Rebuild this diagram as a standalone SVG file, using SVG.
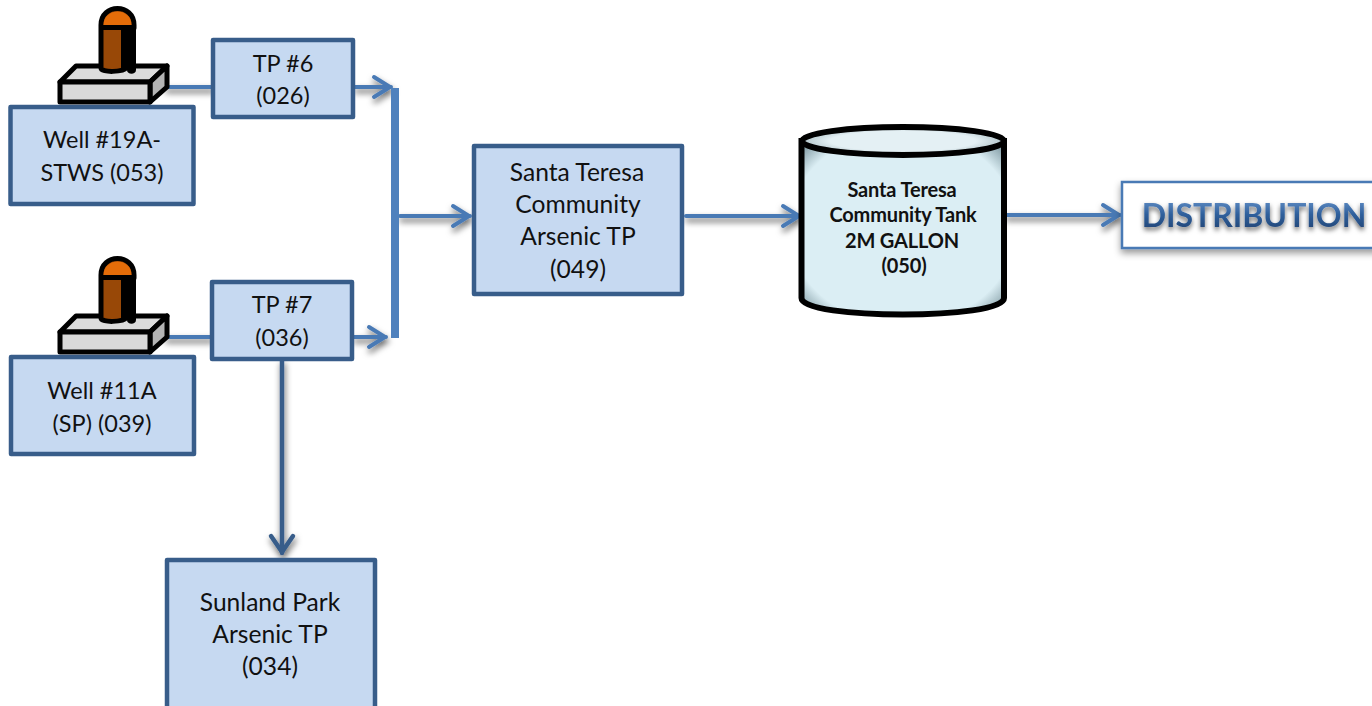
<svg xmlns="http://www.w3.org/2000/svg" width="1372" height="706" viewBox="0 0 1372 706">
<style>
.box{fill:#c6d9f1;stroke:#385d8a;stroke-width:4.5;stroke-linejoin:round}
.t{font-family:"Lato","Carlito","Open Sans",sans-serif;font-size:23.5px;fill:#111;text-anchor:middle}
.l{font-size:24.6px}
.b{font-family:"Lato","Carlito","Open Sans",sans-serif;font-size:20px;font-weight:700;fill:#111;text-anchor:middle;letter-spacing:-.15px}
.c{fill:none;stroke:#4a7ab5;stroke-width:4;stroke-linecap:round;stroke-linejoin:round}
.k{stroke:#000;stroke-width:5;stroke-linejoin:round}
</style>
<defs>
<filter id="sh" x="-30%" y="-30%" width="160%" height="170%"><feDropShadow dx="1" dy="4" stdDeviation="3" flood-color="#000" flood-opacity=".6"/></filter>
<filter id="sb" x="-10%" y="-30%" width="120%" height="170%"><feDropShadow dx="0" dy="4" stdDeviation="3.500" flood-color="#000" flood-opacity=".4"/></filter>
<filter id="ts" x="-10%" y="-30%" width="120%" height="170%"><feDropShadow dx="0" dy="3" stdDeviation="2.500" flood-color="#000" flood-opacity=".6"/></filter>
<radialGradient id="tankg" cx=".5" cy=".5" r=".7"><stop offset=".8" stop-color="#dbeef4"/><stop offset="1" stop-color="#6f8a93"/></radialGradient>
<radialGradient id="topg" cx=".5" cy=".5" r=".6"><stop offset=".6" stop-color="#e4f0f4"/><stop offset="1" stop-color="#8fa6ad"/></radialGradient>
<linearGradient id="txtg" x1="0" y1="0" x2="0" y2="1"><stop offset="0" stop-color="#6f9bd0"/><stop offset=".5" stop-color="#2f5f9c"/><stop offset="1" stop-color="#1f3f6c"/></linearGradient>
<marker id="ah" markerUnits="userSpaceOnUse" markerWidth="28" markerHeight="32" refX="25" refY="15" orient="auto"><path d="M8 5 L24 15 L8 25" fill="none" stroke="#4a7ab5" stroke-width="4" stroke-linecap="round" stroke-linejoin="round"/></marker>
<marker id="ad" markerUnits="userSpaceOnUse" markerWidth="28" markerHeight="32" refX="25" refY="15" orient="auto"><path d="M8 4 L24 15 L8 26" fill="none" stroke="#385d8a" stroke-width="4.500" stroke-linecap="round" stroke-linejoin="round"/></marker>
<g id="wellicon">
<path class="k" d="M60 82 L76 66 H167 L150 82 Z" fill="#dcdcdc"/>
<path class="k" d="M150 82 L167 66 V87 L150 102 Z" fill="#b4b4b4"/>
<rect class="k" x="60" y="82" width="90" height="20" fill="#d9d9d9"/>
<path d="M101 25 C101 3 134 3 134 25 V28 H126 V68 C124 72 101 73 101 68 Z" fill="#984807" stroke="#000" stroke-width="5" stroke-linejoin="round"/>
<path d="M103.500 25 C103.500 7 131.500 7 131.500 25 Z" fill="#e36c09"/>
<path d="M101 27.500 H136" stroke="#000" stroke-width="5" fill="none"/>
<path d="M121 28 H126 V70 H121 Z" fill="#000"/>
<path d="M127 28 H136 V70 C136 75 127 75 127 70 Z" fill="#000"/>
</g>
</defs>

<g id="connectors">
<g filter="url(#sh)">
<path class="c" d="M166 87 H212"/>
<path class="c" d="M355 87 H391" marker-end="url(#ah)"/>
<path class="c" d="M166 337 H211"/>
<path class="c" d="M354 337 H386" marker-end="url(#ah)"/>
<path class="c" d="M400 216 H470" marker-end="url(#ah)"/>
<path class="c" d="M686 216 H800" marker-end="url(#ah)"/>
<path class="c" d="M1006 215 H1120" marker-end="url(#ah)"/>
<path class="c" style="stroke:#385d8a;stroke-width:4.500" d="M282 361 V553" marker-end="url(#ad)"/>
</g>
<rect x="391" y="88" width="8" height="250" fill="#4f81bd"/>
</g>

<g id="well19icon"><use href="#wellicon"/></g>
<g id="well11icon"><use href="#wellicon" y="250"/></g>

<g id="well19"><rect class="box" x="10.500" y="107" width="183" height="97"/>
<text class="t" x="102" y="148">Well #19A-</text><text class="t" x="102" y="181">STWS (053)</text></g>
<g id="tp6"><rect class="box" x="213" y="40" width="140" height="77"/>
<text class="t" x="283" y="72">TP #6</text><text class="t" x="283" y="104">(026)</text></g>
<g id="well11"><rect class="box" x="11" y="357" width="183" height="97"/>
<text class="t" x="102" y="399">Well #11A</text><text class="t" x="102" y="432">(SP) (039)</text></g>
<g id="tp7"><rect class="box" x="212" y="282" width="140" height="77"/>
<text class="t" x="282" y="313">TP #7</text><text class="t" x="282" y="346">(036)</text></g>
<g id="sunland"><rect class="box" x="167" y="560" width="208" height="160"/>
<text class="t l" x="270" y="611">Sunland Park</text><text class="t l" x="270" y="643">Arsenic TP</text><text class="t l" x="270" y="675">(034)</text></g>
<g id="santa"><rect class="box" x="474" y="146" width="208" height="148"/>
<text class="t l" x="577" y="181">Santa Teresa</text><text class="t l" x="578" y="213">Community</text><text class="t l" x="578" y="245">Arsenic TP</text><text class="t l" x="578" y="278">(049)</text></g>
<g id="tank">
<path d="M801.500 141 V298 C801.500 320 1004 320 1004 298 V141 Z" fill="url(#tankg)" stroke="#000" stroke-width="6"/>
<ellipse cx="903" cy="141" rx="101" ry="14" fill="url(#topg)" stroke="#000" stroke-width="6"/>
<text class="b" x="902" y="197">Santa Teresa</text><text class="b" x="903" y="222">Community Tank</text><text class="b" x="902" y="248">2M GALLON</text><text class="b" x="904" y="273">(050)</text></g>
<g id="distribution">
<rect x="1122" y="182" width="260" height="66" fill="#fff" stroke="#4a7ab5" stroke-width="2.500" filter="url(#sb)"/>
<text x="1254" y="227" font-family="Lato,Carlito,sans-serif" font-size="32" font-weight="700" text-anchor="middle" fill="url(#txtg)" filter="url(#ts)">DISTRIBUTION</text></g>
</svg>
